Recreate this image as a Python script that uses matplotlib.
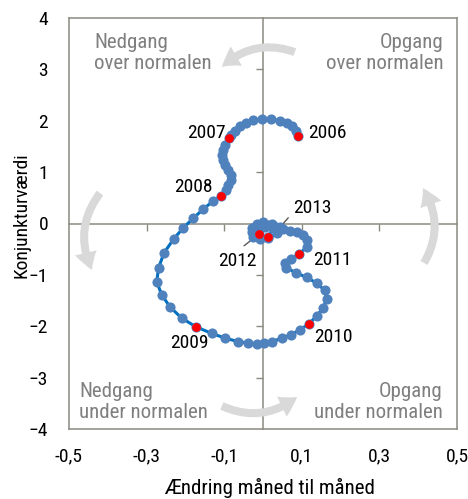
import numpy as np
import matplotlib.pyplot as plt
from matplotlib.patches import FancyArrowPatch

plt.rcParams['font.family'] = ['Roboto Condensed', 'DejaVu Sans']

# maanedlige observationer 2006-2013 (x: aendring m/m, y: konjunkturvaerdi)
maaned_x = [0.089, 0.085, 0.074, 0.061, 0.044, 0.021, -0.002, -0.025, -0.044, -0.059, -0.072, -0.082,
            -0.088, -0.098, -0.104, -0.106, -0.104, -0.098, -0.089, -0.083, -0.083, -0.089, -0.095,
            -0.109, -0.128, -0.154, -0.180, -0.205, -0.230, -0.255, -0.269, -0.274, -0.261, -0.240, -0.210,
            -0.173, -0.132, -0.098, -0.064, -0.038, -0.016, 0.003, 0.024, 0.048, 0.071, 0.095,
            0.119, 0.138, 0.155, 0.164, 0.159, 0.138, 0.113, 0.085, 0.060, 0.057, 0.072,
            0.093, 0.113, 0.114, 0.104, 0.087, 0.070, 0.051, 0.034, 0.014, -0.003, -0.021, -0.029,
            -0.010, 0.005, 0.022, 0.044, 0.035, 0.014, -0.008, -0.025, -0.029, -0.016, 0.001, 0.027,
            0.012]
maaned_y = [1.71, 1.81, 1.90, 1.96, 2.00, 2.03, 2.03, 2.01, 1.96, 1.90, 1.81, 1.73,
            1.66, 1.53, 1.43, 1.33, 1.24, 1.14, 1.04, 0.94, 0.85, 0.75, 0.65,
            0.535, 0.44, 0.28, 0.10, -0.08, -0.30, -0.57, -0.86, -1.13, -1.39, -1.62, -1.84,
            -2.01, -2.14, -2.23, -2.30, -2.33, -2.34, -2.33, -2.30, -2.23, -2.17, -2.07,
            -1.95, -1.80, -1.65, -1.47, -1.30, -1.16, -1.05, -0.96, -0.86, -0.76, -0.69,
            -0.60, -0.45, -0.33, -0.22, -0.17, -0.15, -0.11, -0.06, -0.03, -0.05, -0.07, -0.16,
            -0.21, -0.06, 0.00, -0.06, -0.19, -0.29, -0.31, -0.26, -0.09, 0.00, 0.02, -0.09,
            -0.27]

aar = ['2006', '2007', '2008', '2009', '2010', '2011', '2012', '2013']
aar_x = [0.089, -0.088, -0.109, -0.173, 0.119, 0.093, -0.010, 0.012]
aar_y = [1.71, 1.66, 0.535, -2.01, -1.95, -0.60, -0.21, -0.27]

x_ticks = [-0.5, -0.3, -0.1, 0.1, 0.3, 0.5]
x_labels = ['-0,5', '-0,3', '-0,1', '0,1', '0,3', '0,5']
y_ticks = [-4, -3, -2, -1, 0, 1, 2, 3, 4]

ramme = '#8a8a80'
pos = [69/468, 70/499, 388/468, 411/499]

fig = plt.figure(figsize=(4.68, 4.99), dpi=100)

# akser gennem nul med tickmarks
bag = fig.add_axes(pos, zorder=0)
bag.set_xlim(-0.5, 0.5)
bag.set_ylim(-4, 4)
bag.spines['left'].set_position(('data', 0))
bag.spines['bottom'].set_position(('data', 0))
bag.spines['top'].set_visible(False)
bag.spines['right'].set_visible(False)
for s in ['left', 'bottom']:
    bag.spines[s].set_color(ramme)
    bag.spines[s].set_linewidth(1.1)
bag.set_xticks([-0.3, -0.1, 0.1, 0.3])
bag.set_yticks([-3, -2, -1, 1, 2, 3])
bag.tick_params(direction='out', length=5, width=1, color=ramme,
                labelleft=False, labelbottom=False)

ax = fig.add_axes(pos, zorder=1)
ax.patch.set_visible(False)
ax.set_xlim(-0.5, 0.5)
ax.set_ylim(-4, 4)
ax.set_xticks(x_ticks, x_labels)
ax.set_yticks(y_ticks)
ax.tick_params(length=0, labelsize=14)
ax.tick_params(axis='x', pad=13)
ax.tick_params(axis='y', pad=15)
for s in ax.spines.values():
    s.set_color(ramme)
    s.set_linewidth(1.1)

# pile
graa = '#d9d9d9'
pile = [((0.582, 0.917), (0.394, 0.881)),
        ((0.080, 0.574), (0.059, 0.387)),
        ((0.394, 0.056), (0.588, 0.078)),
        ((0.915, 0.404), (0.912, 0.586))]
for a, b in pile:
    p = FancyArrowPatch(a, b, transform=ax.transAxes,
                        connectionstyle='arc3,rad=0.3',
                        arrowstyle='simple,head_length=1.3,head_width=1.6,tail_width=0.58',
                        mutation_scale=10, color=graa, lw=0, shrinkA=0, shrinkB=0, zorder=1)
    ax.add_patch(p)

# kvadrant tekster
tg = '#7f7f7f'
kw = dict(transform=ax.transAxes, va='center', fontsize=15, color=tg, linespacing=1.15)
ax.text(0.065, 0.915, 'Nedgang\nover normalen', ha='left', **kw)
ax.text(0.966, 0.915, 'Opgang\nover normalen', ha='right', multialignment='right', **kw)
ax.text(0.027, 0.065, 'Nedgang\nunder normalen', ha='left', **kw)
ax.text(0.963, 0.065, 'Opgang\nunder normalen', ha='right', multialignment='right', **kw)

# data
ax.plot(maaned_x, maaned_y, color='#0070c0', lw=2.2, zorder=3)
ax.plot(maaned_x, maaned_y, 'o', color='#4f81bd', ms=7.3, mec='none', zorder=4)
ax.plot(aar_x, aar_y, 'o', color='#ff0000', ms=6.3, mec='none', zorder=5)

# aarstal
ax.text(0.116, 1.76, '2006', ha='left', va='center', fontsize=14)
ax.text(-0.096, 1.76, '2007', ha='right', va='center', fontsize=14)
ax.text(-0.131, 0.72, '2008', ha='right', va='center', fontsize=14)
ax.text(-0.191, -2.33, '2009', ha='center', va='center', fontsize=14)
ax.text(0.131, -2.20, '2010', ha='left', va='center', fontsize=14)
ax.text(0.130, -0.71, '2011', ha='left', va='center', fontsize=14)
ax.annotate('2012', xy=(-0.023, -0.28), xytext=(-0.066, -0.73), ha='center', va='center',
            fontsize=14, arrowprops=dict(arrowstyle='-', color='#595959', lw=1,
                                         shrinkA=4, shrinkB=0, relpos=(0.47, 1)))
ax.annotate('2013', xy=(0.026, -0.224), xytext=(0.077, 0.30), ha='left', va='center',
            fontsize=14, arrowprops=dict(arrowstyle='-', color='#595959', lw=1,
                                         shrinkA=2, shrinkB=0, relpos=(0, 0.25)))

fig.text(270/468, 1 - 488/499, 'Ændring måned til måned', ha='center', va='center', fontsize=15)
fig.text(22/468, 1 - 215/499, 'Konjunkturværdi', ha='center', va='center', rotation=90, fontsize=14)

fig.savefig('out.png', dpi=100)
